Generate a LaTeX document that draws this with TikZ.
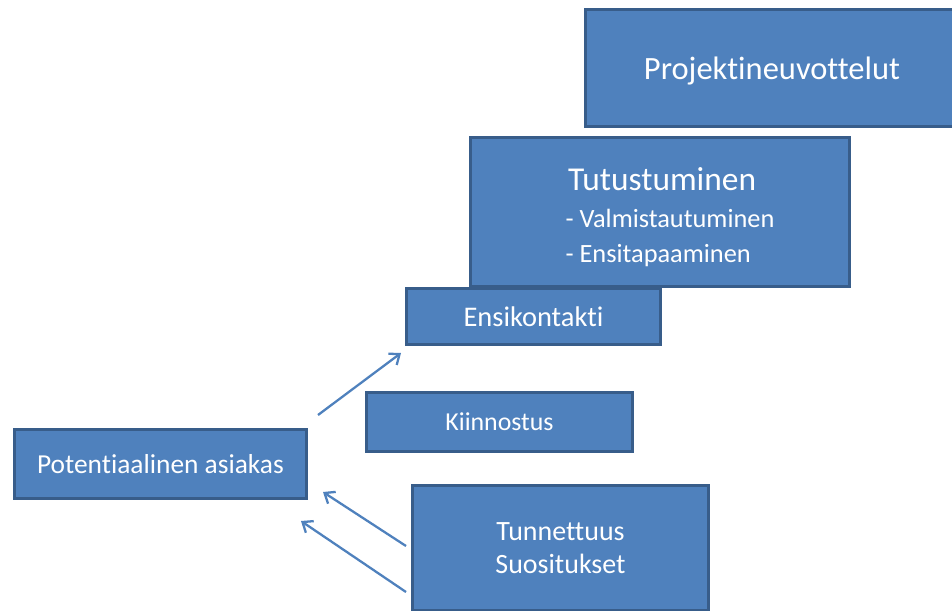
\documentclass[tikz,border=0pt]{standalone}
\usepackage{fontspec}
\setmainfont{Carlito}[Ligatures=NoCommon]
\usetikzlibrary{arrows.meta}
\definecolor{boxfill}{HTML}{4F81BD}
\definecolor{boxline}{HTML}{385D8A}
\tikzset{
    stage/.style={draw=boxline, fill=boxfill, line width=1.7pt,
        text=white, inner sep=0pt},
    flow/.style={draw=boxfill, line width=1.3pt,
        -{Straight Barb[length=5pt,width=8pt]}}
}
\newcommand{\fsz}[1]{\fontsize{#1}{1.2\dimexpr #1\relax}\selectfont}

\begin{document}
\begin{tikzpicture}[x=0.02cm, y=-0.02cm]

    \clip (0,0) rectangle (952,611);

    % boxes, in pixel units of the sketch
    \node[stage, font=\fsz{18.5pt}, text depth=0pt, minimum width=7.46cm, minimum height=2.36cm] (proj) at (772,68)
        {Projektineuvottelut};
    \node[stage, minimum width=7.58cm, minimum height=3.0cm] (tutu) at (660,212) {};
    \node[text=white, font=\fsz{15pt}, align=left, inner sep=0pt] (tututxt) at (670,217)
        {\fsz{19pt}\hspace{1.5pt}Tutustuminen\\[3pt]
         - Valmistautuminen\\[2pt]
         - Ensitapaaminen};
    \node[stage, font=\fsz{16.2pt}, minimum width=5.08cm, minimum height=1.12cm] (ensi) at (533.5,316.5)
        {Ensikontakti};
    \node[stage, font=\fsz{14.7pt}, minimum width=5.32cm, minimum height=1.18cm] (kiin) at (499.5,422)
        {Kiinnostus};
    \node[stage, font=\fsz{15.6pt}, minimum width=5.84cm, minimum height=1.38cm] (pote) at (160.5,464)
        {Potentiaalinen asiakas};
    \node[stage, font=\fsz{15.9pt}, minimum width=5.92cm, minimum height=2.5cm, align=center] (tunn) at (560.5,548)
        {Tunnettuus\\ Suositukset};

    % loose arrow ends
    \coordinate (a1) at (318,415);
    \coordinate (a2) at (401,353);
    \coordinate (b1) at (406,546);
    \coordinate (b2) at (323,492);
    \coordinate (c1) at (406,592);
    \coordinate (c2) at (301,521);

    \draw[flow] (a1) -- (a2);
    \draw[flow] (b1) -- (b2);
    \draw[flow] (c1) -- (c2);

\end{tikzpicture}
\end{document}
